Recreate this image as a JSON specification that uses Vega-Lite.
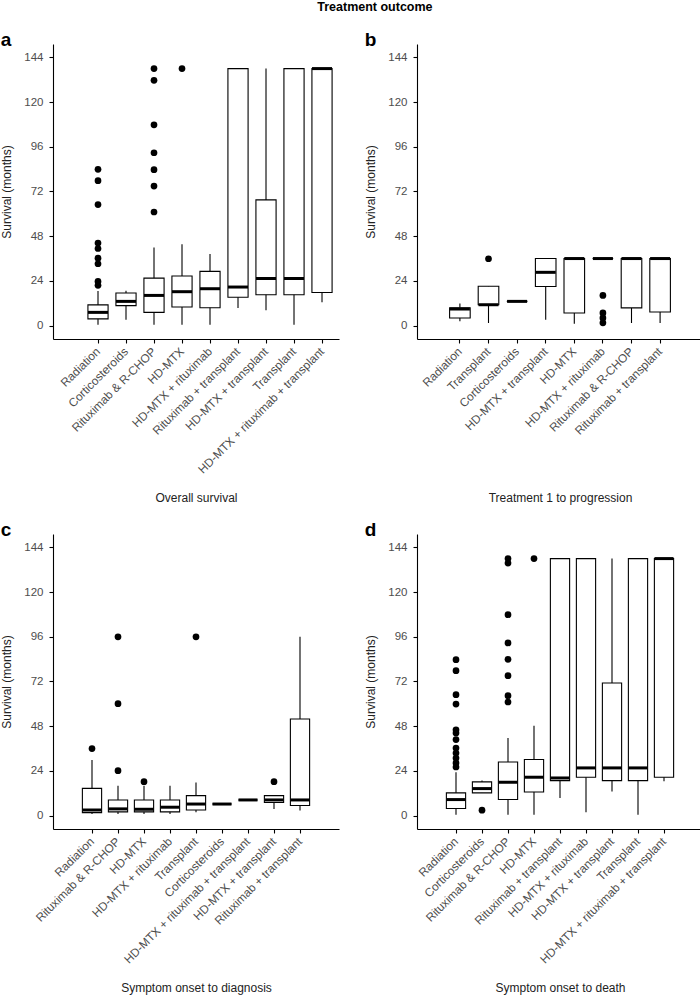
{
  "$schema": "https://vega.github.io/schema/vega-lite/v6.json",
  "padding": {"left": 0, "top": 0, "right": 0, "bottom": 8},
  "title": {"text": "Treatment outcome", "fontSize": 12.5, "fontWeight": "bold", "anchor": "middle", "dx": 23, "offset": 18, "color": "black"},
  "datasets": {
    "a_box": [
      {"t": "Radiation", "lo": 0.5, "q1": 3.6, "med": 7.1, "q3": 11.1, "hi": 18.6},
      {"t": "Corticosteroids", "lo": 3.2, "q1": 10.7, "med": 13, "q3": 17.5, "hi": 18.7},
      {"t": "Rituximab & R-CHOP", "lo": 0.5, "q1": 7.1, "med": 16.2, "q3": 25.5, "hi": 41.9},
      {"t": "HD-MTX", "lo": 0.5, "q1": 10, "med": 18.2, "q3": 26.6, "hi": 43.7},
      {"t": "HD-MTX + rituximab", "lo": 0.5, "q1": 9.6, "med": 19.8, "q3": 29.1, "hi": 38.5},
      {"t": "Rituximab + transplant", "lo": 9.5, "q1": 15.2, "med": 20.7, "q3": 138, "hi": 138},
      {"t": "HD-MTX + transplant", "lo": 8.2, "q1": 16.6, "med": 25.3, "q3": 67.5, "hi": 138},
      {"t": "Transplant", "lo": 0.5, "q1": 16.6, "med": 25.3, "q3": 138, "hi": 138},
      {"t": "HD-MTX + rituximab + transplant", "lo": 12.5, "q1": 17.8, "med": 138, "q3": 138, "hi": 138}
    ],
    "a_out": [
      {"t": "Radiation", "v": 83.9}, {"t": "Radiation", "v": 77.8}, {"t": "Radiation", "v": 65},
      {"t": "Radiation", "v": 44.3}, {"t": "Radiation", "v": 41.4}, {"t": "Radiation", "v": 36.2},
      {"t": "Radiation", "v": 33.2}, {"t": "Radiation", "v": 23.7}, {"t": "Radiation", "v": 21.6},
      {"t": "Rituximab & R-CHOP", "v": 138}, {"t": "Rituximab & R-CHOP", "v": 131.7},
      {"t": "Rituximab & R-CHOP", "v": 107.8}, {"t": "Rituximab & R-CHOP", "v": 92.8},
      {"t": "Rituximab & R-CHOP", "v": 83.7}, {"t": "Rituximab & R-CHOP", "v": 74.9},
      {"t": "Rituximab & R-CHOP", "v": 61},
      {"t": "HD-MTX", "v": 138}
    ],
    "b_box": [
      {"t": "Radiation", "lo": 2.3, "q1": 4.1, "med": 8.9, "q3": 9.6, "hi": 11.8},
      {"t": "Transplant", "lo": 1.4, "q1": 11.2, "med": 11.2, "q3": 21.1, "hi": 21.1},
      {"t": "Corticosteroids", "lo": 13, "q1": 13, "med": 13, "q3": 13, "hi": 13},
      {"t": "HD-MTX + transplant", "lo": 3.2, "q1": 21, "med": 28.6, "q3": 36, "hi": 36},
      {"t": "HD-MTX", "lo": 1, "q1": 6.8, "med": 36, "q3": 36, "hi": 36},
      {"t": "HD-MTX + rituximab", "lo": 36, "q1": 36, "med": 36, "q3": 36, "hi": 36},
      {"t": "Rituximab & R-CHOP", "lo": 1.4, "q1": 9.5, "med": 36, "q3": 36, "hi": 36},
      {"t": "Rituximab + transplant", "lo": 1.4, "q1": 7.3, "med": 36, "q3": 36, "hi": 36}
    ],
    "b_out": [
      {"t": "Transplant", "v": 35.9},
      {"t": "HD-MTX + rituximab", "v": 16.2}, {"t": "HD-MTX + rituximab", "v": 6.8},
      {"t": "HD-MTX + rituximab", "v": 4.1}, {"t": "HD-MTX + rituximab", "v": 1.5}
    ],
    "c_box": [
      {"t": "Radiation", "lo": 0.9, "q1": 1.6, "med": 3, "q3": 14.6, "hi": 29.8},
      {"t": "Rituximab & R-CHOP", "lo": 0.9, "q1": 2, "med": 3.6, "q3": 8.4, "hi": 16},
      {"t": "HD-MTX", "lo": 0.9, "q1": 2, "med": 3.4, "q3": 8.4, "hi": 16},
      {"t": "HD-MTX + rituximab", "lo": 0.9, "q1": 2, "med": 4.5, "q3": 8.4, "hi": 16},
      {"t": "Transplant", "lo": 1.8, "q1": 3, "med": 6.2, "q3": 10.7, "hi": 17.8},
      {"t": "Corticosteroids", "lo": 6.2, "q1": 6.2, "med": 6.2, "q3": 6.2, "hi": 6.2},
      {"t": "HD-MTX + rituximab + transplant", "lo": 8.4, "q1": 8.4, "med": 8.4, "q3": 8.4, "hi": 8.4},
      {"t": "HD-MTX + transplant", "lo": 3.6, "q1": 7, "med": 8.4, "q3": 10.7, "hi": 10.7},
      {"t": "Rituximab + transplant", "lo": 2.7, "q1": 5.4, "med": 8.4, "q3": 51.9, "hi": 96}
    ],
    "c_out": [
      {"t": "Radiation", "v": 36},
      {"t": "Rituximab & R-CHOP", "v": 24.1}, {"t": "Rituximab & R-CHOP", "v": 60.1}, {"t": "Rituximab & R-CHOP", "v": 96},
      {"t": "HD-MTX", "v": 18.2},
      {"t": "Transplant", "v": 96},
      {"t": "HD-MTX + transplant", "v": 18.2}
    ],
    "d_box": [
      {"t": "Radiation", "lo": 0.5, "q1": 3.8, "med": 8.6, "q3": 12.2, "hi": 23.3},
      {"t": "Corticosteroids", "lo": 12.2, "q1": 12.2, "med": 14.5, "q3": 18.1, "hi": 18.8},
      {"t": "Rituximab & R-CHOP", "lo": 0.5, "q1": 8.6, "med": 17.9, "q3": 28.8, "hi": 41.7},
      {"t": "HD-MTX", "lo": 0.5, "q1": 12.7, "med": 20.6, "q3": 30.1, "hi": 48.3},
      {"t": "Rituximab + transplant", "lo": 9.5, "q1": 18.8, "med": 20.2, "q3": 138, "hi": 138},
      {"t": "HD-MTX + rituximab", "lo": 1.8, "q1": 20.6, "med": 25.6, "q3": 138, "hi": 138},
      {"t": "HD-MTX + transplant", "lo": 13, "q1": 18.8, "med": 25.6, "q3": 71.2, "hi": 138},
      {"t": "Transplant", "lo": 0.5, "q1": 18.8, "med": 25.6, "q3": 138, "hi": 138},
      {"t": "HD-MTX + rituximab + transplant", "lo": 18.4, "q1": 20.6, "med": 138, "q3": 138, "hi": 138}
    ],
    "d_out": [
      {"t": "Radiation", "v": 83.7}, {"t": "Radiation", "v": 77.8}, {"t": "Radiation", "v": 64.9},
      {"t": "Radiation", "v": 59.9}, {"t": "Radiation", "v": 46.1}, {"t": "Radiation", "v": 44.4},
      {"t": "Radiation", "v": 40.8}, {"t": "Radiation", "v": 36.3}, {"t": "Radiation", "v": 33.6},
      {"t": "Radiation", "v": 30.9}, {"t": "Radiation", "v": 28.3}, {"t": "Radiation", "v": 26.1},
      {"t": "Corticosteroids", "v": 2.9},
      {"t": "Rituximab & R-CHOP", "v": 138}, {"t": "Rituximab & R-CHOP", "v": 135.6},
      {"t": "Rituximab & R-CHOP", "v": 107.9}, {"t": "Rituximab & R-CHOP", "v": 92.7},
      {"t": "Rituximab & R-CHOP", "v": 83.9}, {"t": "Rituximab & R-CHOP", "v": 75.1},
      {"t": "Rituximab & R-CHOP", "v": 64.4}, {"t": "Rituximab & R-CHOP", "v": 61},
      {"t": "HD-MTX", "v": 138}
    ]
  },
  "columns": 2,
  "spacing": {"row": 18, "column": 25},
  "concat": [
    {
      "title": {"text": "a"},
      "width": 286, "height": 295,
      "layer": [
        {"data": {"name": "a_box"}, "mark": {"type": "rule", "color": "black", "strokeWidth": 1.1},
         "encoding": {
           "x": {"field": "t", "type": "nominal", "title": "Overall survival",
                 "scale": {"type": "band", "domain": ["Radiation", "Corticosteroids", "Rituximab & R-CHOP", "HD-MTX", "HD-MTX + rituximab", "Rituximab + transplant", "HD-MTX + transplant", "Transplant", "HD-MTX + rituximab + transplant"], "paddingInner": 0, "paddingOuter": 0.607, "align": 0.912}},
           "y": {"field": "lo", "type": "quantitative", "title": "Survival (months)",
                 "scale": {"domain": [-7.2, 151.2], "nice": false, "zero": false},
                 "axis": {"values": [0, 12, 24, 36, 48, 60, 72, 84, 96, 108, 120, 132, 144], "labelExpr": "datum.value % 24 == 0 ? datum.label : ''"}},
           "y2": {"field": "hi"}}},
        {"data": {"name": "a_box"}, "mark": {"type": "bar", "fill": "white", "stroke": "black", "strokeWidth": 1.1, "width": {"band": 0.72}},
         "encoding": {"x": {"field": "t", "type": "nominal", "title": "Overall survival"}, "y": {"field": "q1", "type": "quantitative", "title": "Survival (months)"}, "y2": {"field": "q3"}}},
        {"data": {"name": "a_box"}, "mark": {"type": "tick", "color": "black", "thickness": 3, "size": 20, "opacity": 1},
         "encoding": {"x": {"field": "t", "type": "nominal", "title": "Overall survival"}, "y": {"field": "med", "type": "quantitative", "title": "Survival (months)"}}},
        {"data": {"name": "a_out"}, "mark": {"type": "circle", "color": "black", "size": 45, "opacity": 1},
         "encoding": {"x": {"field": "t", "type": "nominal", "title": "Overall survival"}, "y": {"field": "v", "type": "quantitative", "title": "Survival (months)"}}}
      ]
    },
    {
      "title": {"text": "b"},
      "width": 286, "height": 295,
      "layer": [
        {"data": {"name": "b_box"}, "mark": {"type": "rule", "color": "black", "strokeWidth": 1.1},
         "encoding": {
           "x": {"field": "t", "type": "nominal", "title": "Treatment 1 to progression",
                 "scale": {"type": "band", "domain": ["Radiation", "Transplant", "Corticosteroids", "HD-MTX + transplant", "HD-MTX", "HD-MTX + rituximab", "Rituximab & R-CHOP", "Rituximab + transplant"], "paddingInner": 0, "paddingOuter": 1.107}},
           "y": {"field": "lo", "type": "quantitative", "title": "Survival (months)",
                 "scale": {"domain": [-7.2, 151.2], "nice": false, "zero": false},
                 "axis": {"values": [0, 12, 24, 36, 48, 60, 72, 84, 96, 108, 120, 132, 144], "labelExpr": "datum.value % 24 == 0 ? datum.label : ''"}},
           "y2": {"field": "hi"}}},
        {"data": {"name": "b_box"}, "mark": {"type": "bar", "fill": "white", "stroke": "black", "strokeWidth": 1.1, "width": {"band": 0.72}},
         "encoding": {"x": {"field": "t", "type": "nominal", "title": "Treatment 1 to progression"}, "y": {"field": "q1", "type": "quantitative", "title": "Survival (months)"}, "y2": {"field": "q3"}}},
        {"data": {"name": "b_box"}, "mark": {"type": "tick", "color": "black", "thickness": 3, "size": 20, "opacity": 1},
         "encoding": {"x": {"field": "t", "type": "nominal", "title": "Treatment 1 to progression"}, "y": {"field": "med", "type": "quantitative", "title": "Survival (months)"}}},
        {"data": {"name": "b_out"}, "mark": {"type": "circle", "color": "black", "size": 45, "opacity": 1},
         "encoding": {"x": {"field": "t", "type": "nominal", "title": "Treatment 1 to progression"}, "y": {"field": "v", "type": "quantitative", "title": "Survival (months)"}}}
      ]
    },
    {
      "title": {"text": "c"},
      "width": 286, "height": 295,
      "layer": [
        {"data": {"name": "c_box"}, "mark": {"type": "rule", "color": "black", "strokeWidth": 1.1},
         "encoding": {
           "x": {"field": "t", "type": "nominal", "title": "Symptom onset to diagnosis",
                 "scale": {"type": "band", "domain": ["Radiation", "Rituximab & R-CHOP", "HD-MTX", "HD-MTX + rituximab", "Transplant", "Corticosteroids", "HD-MTX + rituximab + transplant", "HD-MTX + transplant", "Rituximab + transplant"], "paddingInner": 0, "paddingOuter": 1.1}},
           "y": {"field": "lo", "type": "quantitative", "title": "Survival (months)",
                 "scale": {"domain": [-7.2, 151.2], "nice": false, "zero": false},
                 "axis": {"values": [0, 12, 24, 36, 48, 60, 72, 84, 96, 108, 120, 132, 144], "labelExpr": "datum.value % 24 == 0 ? datum.label : ''"}},
           "y2": {"field": "hi"}}},
        {"data": {"name": "c_box"}, "mark": {"type": "bar", "fill": "white", "stroke": "black", "strokeWidth": 1.1, "width": {"band": 0.74}},
         "encoding": {"x": {"field": "t", "type": "nominal", "title": "Symptom onset to diagnosis"}, "y": {"field": "q1", "type": "quantitative", "title": "Survival (months)"}, "y2": {"field": "q3"}}},
        {"data": {"name": "c_box"}, "mark": {"type": "tick", "color": "black", "thickness": 3, "size": 19, "opacity": 1},
         "encoding": {"x": {"field": "t", "type": "nominal", "title": "Symptom onset to diagnosis"}, "y": {"field": "med", "type": "quantitative", "title": "Survival (months)"}}},
        {"data": {"name": "c_out"}, "mark": {"type": "circle", "color": "black", "size": 45, "opacity": 1},
         "encoding": {"x": {"field": "t", "type": "nominal", "title": "Symptom onset to diagnosis"}, "y": {"field": "v", "type": "quantitative", "title": "Survival (months)"}}}
      ]
    },
    {
      "title": {"text": "d"},
      "width": 286, "height": 295,
      "layer": [
        {"data": {"name": "d_box"}, "mark": {"type": "rule", "color": "black", "strokeWidth": 1.1},
         "encoding": {
           "x": {"field": "t", "type": "nominal", "title": "Symptom onset to death",
                 "scale": {"type": "band", "domain": ["Radiation", "Corticosteroids", "Rituximab & R-CHOP", "HD-MTX", "Rituximab + transplant", "HD-MTX + rituximab", "HD-MTX + transplant", "Transplant", "HD-MTX + rituximab + transplant"], "paddingInner": 0, "paddingOuter": 1.1}},
           "y": {"field": "lo", "type": "quantitative", "title": "Survival (months)",
                 "scale": {"domain": [-7.2, 151.2], "nice": false, "zero": false},
                 "axis": {"values": [0, 12, 24, 36, 48, 60, 72, 84, 96, 108, 120, 132, 144], "labelExpr": "datum.value % 24 == 0 ? datum.label : ''"}},
           "y2": {"field": "hi"}}},
        {"data": {"name": "d_box"}, "mark": {"type": "bar", "fill": "white", "stroke": "black", "strokeWidth": 1.1, "width": {"band": 0.74}},
         "encoding": {"x": {"field": "t", "type": "nominal", "title": "Symptom onset to death"}, "y": {"field": "q1", "type": "quantitative", "title": "Survival (months)"}, "y2": {"field": "q3"}}},
        {"data": {"name": "d_box"}, "mark": {"type": "tick", "color": "black", "thickness": 3, "size": 19, "opacity": 1},
         "encoding": {"x": {"field": "t", "type": "nominal", "title": "Symptom onset to death"}, "y": {"field": "med", "type": "quantitative", "title": "Survival (months)"}}},
        {"data": {"name": "d_out"}, "mark": {"type": "circle", "color": "black", "size": 45, "opacity": 1},
         "encoding": {"x": {"field": "t", "type": "nominal", "title": "Symptom onset to death"}, "y": {"field": "v", "type": "quantitative", "title": "Survival (months)"}}}
      ]
    }
  ],
  "config": {
    "font": "Liberation Sans",
    "view": {"stroke": null},
    "title": {"anchor": "start", "frame": "bounds", "fontSize": 19, "fontWeight": "bold", "offset": -6, "color": "black"},
    "axis": {"grid": false, "domainColor": "black", "domainWidth": 1.1, "tickColor": "black", "tickWidth": 1.1, "tickSize": 4,
             "labelColor": "#4d4d4d", "labelFontSize": 11.5, "titleColor": "#222222", "titleFontSize": 12, "titleFontWeight": "normal"},
    "axisX": {"labelAngle": -45, "labelAlign": "right", "labelBaseline": "middle", "labelPadding": 6, "labelFontSize": 11.8, "titleY": 162, "titleBaseline": "alphabetic"},
    "axisY": {"labelPadding": 6, "titlePadding": 10}
  }
}
